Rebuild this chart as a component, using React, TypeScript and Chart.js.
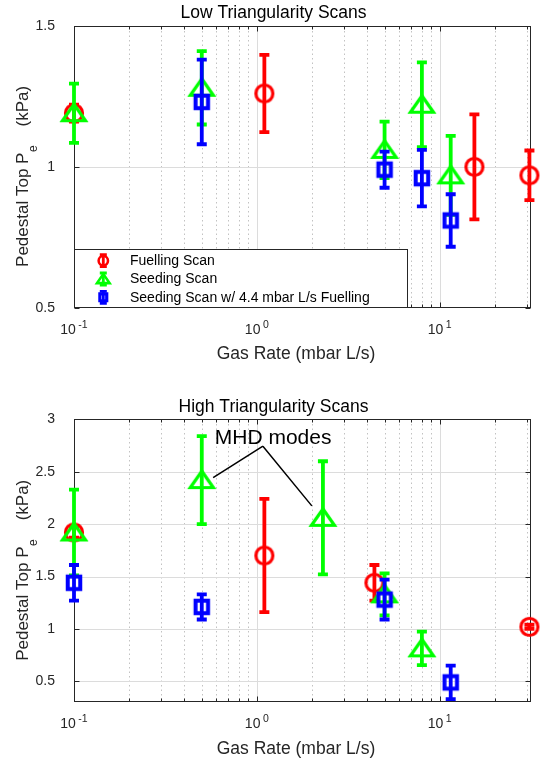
import { useEffect, useRef } from 'react';
import { Chart, registerables } from 'chart.js';

Chart.register(...registerables);

const FONT = '"Liberation Sans", Arial, Helvetica, sans-serif';
const AXIS_COLOR = '#262626';
const GRID_MAJOR = '#dcdcdc';
const GRID_MINOR = '#c2c2c2';

// ---- shared series description ----
const seriesLabels = ['Fuelling Scan', 'Seeding Scan', 'Seeding Scan w/ 4.4 mbar L/s Fuelling'];
const seriesColors = ['#ff0000', '#00ff00', '#0000ff'];

// ---- gas-rate axis (log) ----
const xMin = 0.1;
const xMax = 31.62;
const xDecades = [0.1, 1, 10];
const xDecadeExponents = ['-1', '0', '1'];
const xMinorTicks = [0.2, 0.3, 0.4, 0.5, 0.6, 0.7, 0.8, 0.9, 2, 3, 4, 5, 6, 7, 8, 9, 20, 30];

// ---- low triangularity scans ----
const lowYTicks = [0.5, 1, 1.5];
const lowFuelX = [0.1, 1.1, 15.5, 31];
const lowFuelY = [1.19, 1.26, 1.0, 0.97];
const lowFuelErr = [0.03, 0.137, 0.186, 0.088];
const lowSeedX = [0.1, 0.5, 5, 8, 11.5];
const lowSeedY = [1.19, 1.28, 1.06, 1.22, 0.97];
const lowSeedErr = [0.105, 0.13, 0.1, 0.15, 0.14];
const lowMixX = [0.5, 5, 8, 11.5];
const lowMixY = [1.23, 0.99, 0.96, 0.81];
const lowMixErr = [0.15, 0.064, 0.1, 0.093];

// ---- high triangularity scans ----
const highYTicks = [0.5, 1, 1.5, 2, 2.5, 3];
const highFuelX = [0.1, 1.1, 4.4, 31];
const highFuelY = [1.92, 1.7, 1.44, 1.02];
const highFuelErr = [0.05, 0.54, 0.17, 0.02];
const highSeedX = [0.1, 0.5, 2.3, 5, 8];
const highSeedY = [1.92, 2.42, 2.06, 1.33, 0.815];
const highSeedErr = [0.41, 0.42, 0.54, 0.2, 0.16];
const highMixX = [0.1, 0.5, 5, 11.5];
const highMixY = [1.44, 1.21, 1.28, 0.49];
const highMixErr = [0.17, 0.12, 0.19, 0.16];

// "MHD modes" callout, in (gas rate, Pe) units
const mhdText = 'MHD modes';
const mhdTextAnchor = [0.589, 2.765];
const mhdApex = [1.08, 2.743];
const mhdTargets = [
  [0.577, 2.444],
  [2.0, 2.174],
];

type Series = { x: number[]; y: number[]; err: number[] };
type Panel = {
  title: string;
  yMin: number;
  yMax: number;
  yTicks: number[];
  series: Series[];
  plotTop: number;
  plotBottom: number;
  legend: boolean;
  callout: boolean;
};

const CANVAS_W = 542;
const CANVAS_H = 380;
const PLOT_LEFT = 74;
const PLOT_RIGHT = 534;

const lowPanel: Panel = {
  title: 'Low Triangularity Scans',
  yMin: 0.5,
  yMax: 1.5,
  yTicks: lowYTicks,
  series: [
    { x: lowFuelX, y: lowFuelY, err: lowFuelErr },
    { x: lowSeedX, y: lowSeedY, err: lowSeedErr },
    { x: lowMixX, y: lowMixY, err: lowMixErr },
  ],
  plotTop: 25.7,
  plotBottom: 308,
  legend: true,
  callout: false,
};

const highPanel: Panel = {
  title: 'High Triangularity Scans',
  yMin: 0.3,
  yMax: 3,
  yTicks: highYTicks,
  series: [
    { x: highFuelX, y: highFuelY, err: highFuelErr },
    { x: highSeedX, y: highSeedY, err: highSeedErr },
    { x: highMixX, y: highMixY, err: highMixErr },
  ],
  plotTop: 39.3,
  plotBottom: 322.3,
  legend: false,
  callout: true,
};

// Outline of a marker: 0 circle, 1 upward triangle, 2 square
function traceMarker(g: CanvasRenderingContext2D, kind: number, cx: number, cy: number, s: number) {
  g.beginPath();
  if (kind === 0) {
    g.arc(cx, cy, 8.5 * s, 0, Math.PI * 2);
  } else if (kind === 1) {
    g.moveTo(cx, cy - 9 * s);
    g.lineTo(cx + 11.5 * s, cy + 7.5 * s);
    g.lineTo(cx - 11.5 * s, cy + 7.5 * s);
    g.closePath();
  } else {
    g.rect(cx - 6.25 * s, cy - 6.25 * s, 12.5 * s, 12.5 * s);
  }
}

function markerWidth(kind: number, s: number) {
  return (kind === 2 ? 4 : 3.2) * s;
}

function makeMarker(kind: number, color: string): HTMLCanvasElement {
  const size = 32;
  const c = document.createElement('canvas');
  c.width = size;
  c.height = size;
  const g = c.getContext('2d')!;
  g.strokeStyle = color;
  g.lineJoin = 'miter';
  g.lineWidth = markerWidth(kind, 1);
  traceMarker(g, kind, size / 2, size / 2, 1);
  g.stroke();
  return c;
}

function drawErrorBar(g: CanvasRenderingContext2D, px: number, y0: number, y1: number, cap: number) {
  g.beginPath();
  g.moveTo(px, y0);
  g.lineTo(px, y1);
  g.moveTo(px - cap, y0);
  g.lineTo(px + cap, y0);
  g.moveTo(px - cap, y1);
  g.lineTo(px + cap, y1);
  g.stroke();
}

// Error bars are drawn right before each dataset's markers
const errorBarPlugin = {
  id: 'errorBars',
  beforeDatasetDraw(chart: any, args: any) {
    const ds = chart.data.datasets[args.index];
    const { x, y } = chart.scales;
    const g: CanvasRenderingContext2D = chart.ctx;
    g.save();
    g.strokeStyle = ds.barColor;
    g.lineWidth = 3.8;
    g.lineCap = 'butt';
    ds.data.forEach((pt: { x: number; y: number }, j: number) => {
      const e = ds.errors[j];
      const px = x.getPixelForValue(pt.x);
      drawErrorBar(g, px, y.getPixelForValue(pt.y - e), y.getPixelForValue(pt.y + e), 5);
    });
    g.restore();
  },
};

function framePlugin(p: Panel) {
  return {
    id: 'frame',
    beforeDatasetsDraw(chart: any) {
      const g: CanvasRenderingContext2D = chart.ctx;
      const a = chart.chartArea;
      const { x, y } = chart.scales;
      const L = Math.round(a.left) + 0.5;
      const R = Math.round(a.right) - 0.5;
      const T = Math.round(a.top) + 0.5;
      const B = Math.round(a.bottom) - 0.5;
      g.save();
      g.lineWidth = 1;
      // minor dotted grid
      g.strokeStyle = GRID_MINOR;
      g.setLineDash([1.5, 3]);
      xMinorTicks.forEach((v) => {
        const px = Math.round(x.getPixelForValue(v)) + 0.5;
        g.beginPath();
        g.moveTo(px, T);
        g.lineTo(px, B);
        g.stroke();
      });
      g.setLineDash([]);
      // major grid
      g.strokeStyle = GRID_MAJOR;
      xDecades.forEach((v) => {
        const px = Math.round(x.getPixelForValue(v)) + 0.5;
        if (px <= L + 1 || px >= R - 1) return;
        g.beginPath();
        g.moveTo(px, T);
        g.lineTo(px, B);
        g.stroke();
      });
      p.yTicks.forEach((v) => {
        const py = Math.round(y.getPixelForValue(v)) + 0.5;
        if (py <= T + 1 || py >= B - 1) return;
        g.beginPath();
        g.moveTo(L, py);
        g.lineTo(R, py);
        g.stroke();
      });
      // box
      g.strokeStyle = AXIS_COLOR;
      g.strokeRect(L, T, R - L, B - T);
      // inward ticks
      g.beginPath();
      p.yTicks.forEach((v) => {
        const py = Math.round(y.getPixelForValue(v)) + 0.5;
        g.moveTo(L, py);
        g.lineTo(L + 5, py);
        g.moveTo(R, py);
        g.lineTo(R - 5, py);
      });
      xDecades.forEach((v) => {
        const px = Math.round(x.getPixelForValue(v)) + 0.5;
        g.moveTo(px, B);
        g.lineTo(px, B - 5);
        g.moveTo(px, T);
        g.lineTo(px, T + 5);
      });
      xMinorTicks.forEach((v) => {
        const px = Math.round(x.getPixelForValue(v)) + 0.5;
        g.moveTo(px, B);
        g.lineTo(px, B - 3);
        g.moveTo(px, T);
        g.lineTo(px, T + 3);
      });
      g.stroke();
      g.restore();
    },
  };
}

function overlayPlugin(p: Panel) {
  return {
    id: 'overlay',
    afterDatasetsDraw(chart: any) {
      const g: CanvasRenderingContext2D = chart.ctx;
      const a = chart.chartArea;
      const { x, y } = chart.scales;
      g.save();

      // legend
      if (p.legend) {
        const lx0 = Math.round(a.left) + 0.5;
        const lx1 = 407.5;
        const ly0 = 249.5;
        const ly1 = Math.round(a.bottom) - 0.5;
        g.fillStyle = '#ffffff';
        g.fillRect(lx0, ly0, lx1 - lx0, ly1 - ly0);
        g.strokeStyle = AXIS_COLOR;
        g.lineWidth = 1;
        g.strokeRect(lx0, ly0, lx1 - lx0, ly1 - ly0);
        const rows = [260.7, 279, 297.3];
        seriesLabels.forEach((label, i) => {
          const cy = rows[i];
          const cx = 103.3;
          g.strokeStyle = seriesColors[i];
          g.lineWidth = 2.8;
          drawErrorBar(g, cx, cy - 6, cy + 6, 3.5);
          g.lineWidth = markerWidth(i, 0.8);
          traceMarker(g, i, cx, cy, 0.55);
          g.stroke();
          g.fillStyle = '#000000';
          g.font = `14px ${FONT}`;
          g.textAlign = 'left';
          g.textBaseline = 'middle';
          g.fillText(label, 130, cy + 0.5);
        });
      }

      // callout
      if (p.callout) {
        g.strokeStyle = '#000000';
        g.lineWidth = 1.5;
        const ax = x.getPixelForValue(mhdApex[0]);
        const ay = y.getPixelForValue(mhdApex[1]);
        g.beginPath();
        mhdTargets.forEach(([tx, ty]) => {
          g.moveTo(ax, ay);
          g.lineTo(x.getPixelForValue(tx), y.getPixelForValue(ty));
        });
        g.stroke();
        g.fillStyle = '#000000';
        g.font = `21px ${FONT}`;
        g.textAlign = 'left';
        g.textBaseline = 'alphabetic';
        g.fillText(mhdText, x.getPixelForValue(mhdTextAnchor[0]), y.getPixelForValue(mhdTextAnchor[1]));
      }

      // title
      g.fillStyle = '#000000';
      g.font = `17.5px ${FONT}`;
      g.textAlign = 'center';
      g.textBaseline = 'alphabetic';
      g.fillText(p.title, 273.5, a.top - 7.4);

      // x tick labels 10^k
      g.fillStyle = AXIS_COLOR;
      g.textAlign = 'left';
      xDecades.forEach((v, k) => {
        const px = x.getPixelForValue(v);
        const exp = xDecadeExponents[k];
        g.font = `14px ${FONT}`;
        const w1 = g.measureText('10').width;
        g.font = `10.5px ${FONT}`;
        const w2 = g.measureText(exp).width;
        const gap = 2.5;
        const start = px - (w1 + gap + w2) / 2;
        const base = a.bottom + 26;
        g.font = `14px ${FONT}`;
        g.fillText('10', start, base);
        g.font = `10.5px ${FONT}`;
        g.fillText(exp, start + w1 + gap, base - 6);
      });

      // x axis label
      g.font = `17.5px ${FONT}`;
      g.textAlign = 'center';
      g.fillText('Gas Rate (mbar L/s)', 296, a.bottom + 51.2);

      // y axis label with subscript
      const main = 'Pedestal Top P';
      const sub = 'e';
      const tail = '(kPa)';
      g.font = `17px ${FONT}`;
      const wMain = g.measureText(main).width;
      const wTail = g.measureText(tail).width;
      g.font = `12px ${FONT}`;
      const wSub = g.measureText(sub).width;
      const gapTail = 19;
      const total = wMain + 0.5 + wSub + gapTail + wTail;
      const cy = (a.top + a.bottom) / 2 + 9.5;
      g.translate(28, cy);
      g.rotate(-Math.PI / 2);
      g.textAlign = 'left';
      let cur = -total / 2;
      g.font = `17px ${FONT}`;
      g.fillText(main, cur, 0);
      cur += wMain + 0.5;
      g.font = `12px ${FONT}`;
      g.fillText(sub, cur, 9);
      cur += wSub + gapTail;
      g.font = `17px ${FONT}`;
      g.fillText(tail, cur, 0);

      g.restore();
    },
  };
}

function buildConfig(p: Panel): any {
  const datasets = p.series.map((s, i) => ({
    label: seriesLabels[i],
    data: s.x.map((xv, j) => ({ x: xv, y: s.y[j] })),
    errors: s.err,
    barColor: seriesColors[i],
    pointStyle: makeMarker(i, seriesColors[i]),
    pointRadius: 10,
    showLine: false,
    clip: false,
    order: 3 - i,
  }));
  return {
    type: 'scatter',
    data: { datasets },
    options: {
      animation: false,
      responsive: false,
      maintainAspectRatio: false,
      events: [],
      layout: { padding: { top: p.plotTop, right: CANVAS_W - PLOT_RIGHT, left: 0, bottom: 0 } },
      plugins: {
        legend: { display: false },
        tooltip: { enabled: false },
        title: { display: false },
      },
      scales: {
        x: {
          type: 'logarithmic',
          min: xMin,
          max: xMax,
          grid: { display: false },
          border: { display: false },
          ticks: { display: false },
          afterFit: (s: any) => {
            s.height = CANVAS_H - p.plotBottom;
          },
        },
        y: {
          type: 'linear',
          min: p.yMin,
          max: p.yMax,
          afterBuildTicks: (s: any) => {
            s.ticks = p.yTicks.map((v) => ({ value: v }));
          },
          grid: { display: false },
          border: { display: false },
          ticks: {
            font: { family: FONT, size: 14 },
            color: AXIS_COLOR,
            padding: 11,
            callback: (v: any) => String(v),
          },
          afterFit: (s: any) => {
            s.width = PLOT_LEFT;
          },
        },
      },
    },
    plugins: [framePlugin(p), errorBarPlugin, overlayPlugin(p)],
  };
}

function PanelChart({ panel, top }: { panel: Panel; top: number }) {
  const ref = useRef<HTMLCanvasElement>(null);
  useEffect(() => {
    const chart = new Chart(ref.current!, buildConfig(panel));
    return () => chart.destroy();
  }, [panel]);
  return (
    <canvas
      ref={ref}
      width={CANVAS_W}
      height={CANVAS_H}
      style={{ position: 'absolute', left: 0, top, width: CANVAS_W, height: CANVAS_H }}
    />
  );
}

export default function App() {
  return (
    <div style={{ position: 'absolute', left: 0, top: 0, width: CANVAS_W, height: CANVAS_H * 2, background: '#ffffff' }}>
      <PanelChart panel={lowPanel} top={0} />
      <PanelChart panel={highPanel} top={CANVAS_H} />
    </div>
  );
}
